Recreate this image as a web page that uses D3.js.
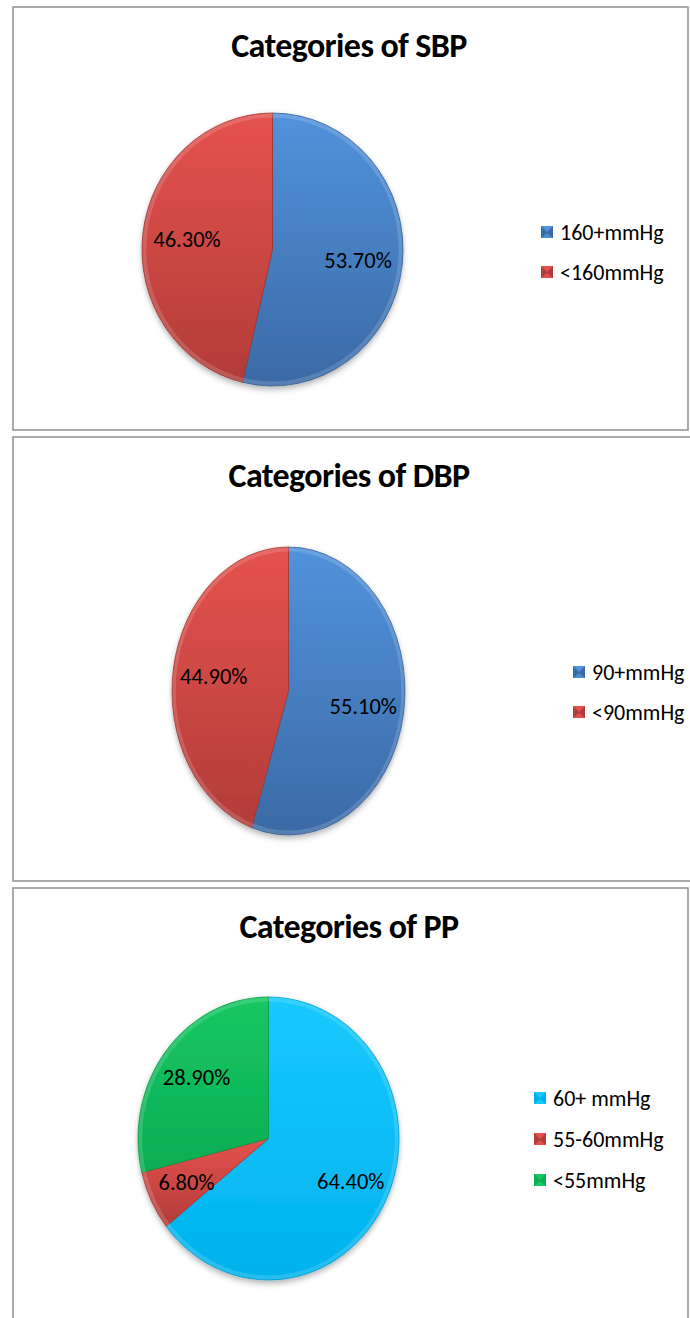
<!DOCTYPE html>
<html>
<head>
<meta charset="utf-8">
<script src="https://cdn.jsdelivr.net/npm/d3@7"></script>
<style>
  body { margin: 0; background: #fff; }
  text { font-family: Carlito, Lato, "Open Sans", sans-serif; fill: #000; }
</style>
</head>
<body>
<svg id="chart"></svg>
<script>
// data
var titles = ["Categories of SBP", "Categories of DBP", "Categories of PP"];

var sbpLabels = ["160+mmHg", "<160mmHg"];
var sbpValues = [53.7, 46.3];

var dbpLabels = ["90+mmHg", "<90mmHg"];
var dbpValues = [55.1, 44.9];

var ppLabels = ["60+ mmHg", "55-60mmHg", "<55mmHg"];
var ppValues = [64.4, 6.8, 28.9];

var blue = ["#5292dc", "#3a6aa5"],
    red = ["#e5524e", "#b23c39"],
    cyan = ["#17c9ff", "#00b2ec"],
    green = ["#15c763", "#0dad52"];

var width = 690, height = 1318;

// panel boxes + where the pie and legend sit inside each one
var layout = [
  {box: [13, 7, 675, 423], cx: 272.5, cy: 249.5, rx: 130.5, ry: 136.5, lr: 0.66,
   legX: 541, legY: 232, legStep: 40, colors: [blue, red]},
  {box: [13, 437, 680, 444], cx: 288.5, cy: 691, rx: 116.5, ry: 144, lr: 0.65,
   legX: 573, legY: 672, legStep: 40, colors: [blue, red]},
  {box: [13, 888, 675, 440], cx: 268.5, cy: 1138.5, rx: 130.5, ry: 141.5, lr: 0.70,
   legX: 534, legY: 1098, legStep: 41, colors: [cyan, red, green]}
];

var charts = [
  {labels: sbpLabels, values: sbpValues},
  {labels: dbpLabels, values: dbpValues},
  {labels: ppLabels, values: ppValues}
];

var svg = d3.select("#chart")
    .attr("width", width)
    .attr("height", height);

var defs = svg.append("defs");

var shadow = defs.append("filter")
    .attr("id", "shadow")
    .attr("x", "-20%").attr("y", "-20%")
    .attr("width", "140%").attr("height", "140%");
shadow.append("feDropShadow")
    .attr("dx", 0).attr("dy", 3)
    .attr("stdDeviation", 3)
    .attr("flood-color", "#000")
    .attr("flood-opacity", 0.3);

[blue, red, cyan, green].forEach(function(c, i) {
  var grad = defs.append("linearGradient")
      .attr("id", "grad" + i)
      .attr("x1", 0).attr("y1", 0)
      .attr("x2", 0).attr("y2", 1);
  grad.append("stop").attr("offset", "0%").attr("stop-color", c[0]);
  grad.append("stop").attr("offset", "100%").attr("stop-color", c[1]);
});
var gradIndex = function(c) { return [blue, red, cyan, green].indexOf(c); };

var pie = d3.pie().sort(null).value(function(d) { return d; });

charts.forEach(function(chart, k) {
  var L = layout[k];

  svg.append("rect")
      .attr("x", L.box[0])
      .attr("y", L.box[1])
      .attr("width", L.box[2])
      .attr("height", L.box[3])
      .attr("fill", "#fff")
      .attr("stroke", "#8f8f8f")
      .attr("stroke-width", 1.5);

  svg.append("text")
      .attr("x", 349)
      .attr("y", L.box[1] + 50)
      .attr("text-anchor", "middle")
      .style("font-size", "34px")
      .style("font-weight", "bold")
      .style("letter-spacing", "-0.6px")
      .text(titles[k]);

  var arcs = pie(chart.values);
  var arc = d3.arc().innerRadius(0).outerRadius(L.ry);
  var labelArc = d3.arc().innerRadius(L.ry * L.lr).outerRadius(L.ry * L.lr);

  var g = svg.append("g")
      .attr("transform", "translate(" + L.cx + "," + L.cy + ")");

  // pie is drawn round, then squeezed into the ellipse Excel gives
  var pg = g.append("g")
      .attr("filter", "url(#shadow)")
      .attr("transform", "scale(" + (L.rx / L.ry) + ",1)");

  pg.selectAll("path")
      .data(arcs)
      .enter()
      .append("path")
      .attr("d", arc)
      .attr("fill", function(d, i) { return "url(#grad" + gradIndex(L.colors[i]) + ")"; })
      .attr("stroke", function(d, i) { return d3.color(L.colors[i][1]).darker(0.4); })
      .attr("stroke-width", 0.8);

  // soft light rim for the bevel look
  pg.append("circle")
      .attr("r", L.ry - 2.5)
      .attr("fill", "none")
      .attr("stroke", "#fff")
      .attr("stroke-opacity", 0.15)
      .attr("stroke-width", 4);

  g.selectAll(".lbl")
      .data(arcs)
      .enter()
      .append("text")
      .attr("class", "lbl")
      .attr("x", function(d) { return labelArc.centroid(d)[0] * L.rx / L.ry; })
      .attr("y", function(d) { return labelArc.centroid(d)[1]; })
      .attr("dy", "0.35em")
      .attr("text-anchor", "middle")
      .style("font-size", "22.5px")
      .text(function(d) { return d.data.toFixed(2) + "%"; });

  var leg = svg.append("g")
      .selectAll("g")
      .data(chart.labels)
      .enter()
      .append("g")
      .attr("transform", function(d, i) {
        return "translate(" + L.legX + "," + (L.legY + i * L.legStep) + ")";
      });

  leg.append("rect")
      .attr("x", 0).attr("y", -6)
      .attr("width", 12).attr("height", 12)
      .attr("fill", function(d, i) { return L.colors[i][1]; });
  // small bevel triangles on the legend keys
  leg.append("path")
      .attr("d", "M0,-6L12,-6L6,0Z")
      .attr("fill", function(d, i) { return L.colors[i][0]; });
  leg.append("path")
      .attr("d", "M0,6L12,6L6,1Z")
      .attr("fill", function(d, i) { return d3.color(L.colors[i][0]).brighter(0.3); })
      .attr("opacity", 0.6);

  leg.append("text")
      .attr("x", 19)
      .attr("dy", "0.35em")
      .style("font-size", "22px")
      .text(function(d) { return d; });
});
</script>
</body>
</html>
